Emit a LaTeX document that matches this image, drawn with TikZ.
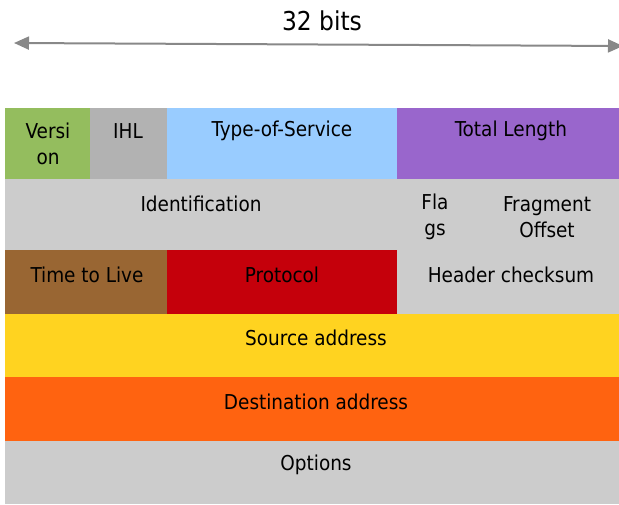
\documentclass[tikz,border=0pt]{standalone}
\usepackage{fontspec}
\setmainfont{DejaVu Sans Condensed}
\usetikzlibrary{arrows.meta}
\definecolor{cgreen}{HTML}{94BD5E}
\definecolor{cihl}{HTML}{B2B2B2}
\definecolor{cblue}{HTML}{99CCFF}
\definecolor{cpurple}{HTML}{9966CC}
\definecolor{cgray}{HTML}{CCCCCC}
\definecolor{cbrown}{HTML}{996633}
\definecolor{cred}{HTML}{C5000B}
\definecolor{cyellow}{HTML}{FFD320}
\definecolor{corange}{HTML}{FF6310}
\definecolor{carrow}{HTML}{888888}
\begin{document}
\begin{tikzpicture}[x=1pt,y=-1pt,
  lbl/.style={font=\fontsize{20.5}{26}\selectfont, align=center, inner sep=0pt, text=black},
  big/.style={font=\fontsize{26}{30}\selectfont, inner sep=0pt},
  span/.style={carrow, line width=2pt, {Triangle[length=15pt,width=13pt]}-{Triangle[length=15pt,width=13pt]}}]
\useasboundingbox (0,0) rectangle (619,504);
% row 1
\fill[cgreen]  (5,108) rectangle (90,179);
\fill[cihl]    (90,108) rectangle (167,179);
\fill[cblue]   (167,108) rectangle (397,179);
\fill[cpurple] (397,108) rectangle (619,179);
% row 2
\fill[cgray]   (5,179) rectangle (619,250);
% row 3
\fill[cbrown]  (5,250) rectangle (167,314);
\fill[cred]    (167,250) rectangle (397,314);
\fill[cgray]   (397,250) rectangle (619,314);
% rows 4-6
\fill[cyellow] (5,314) rectangle (619,377);
\fill[corange] (5,377) rectangle (619,441);
\fill[cgray]   (5,441) rectangle (619,504);
% texts
\node[lbl] (ver) at (48,144) {Versi\\on};
\node[lbl] (ihl) at (128,131) {IHL};
\node[lbl] (tos) at (282,131) {Type-of-Service};
\node[lbl] (tl)  at (511,131) {Total Length};
\node[lbl] (id)  at (201,204) {Identification};
\node[lbl] (fl)  at (435,217) {Fla\\gs};
\node[lbl] (fo)  at (547,217) {Fragment\\Offset};
\node[lbl] (ttl) at (87,275) {Time to Live};
\node[lbl] (pro) at (282,275) {Protocol};
\node[lbl] (hc)  at (511,275) {Header checksum};
\node[lbl] (src) at (316,338) {Source address};
\node[lbl] (dst) at (316,402) {Destination address};
\node[lbl] (opt) at (316,465) {Options};
% span arrow
\coordinate (aL) at (14,43);
\coordinate (aR) at (623,46);
\draw[span] (aL) -- (aR);
\node[big] (bits) at (322,21) {32 bits};
\end{tikzpicture}
\end{document}
